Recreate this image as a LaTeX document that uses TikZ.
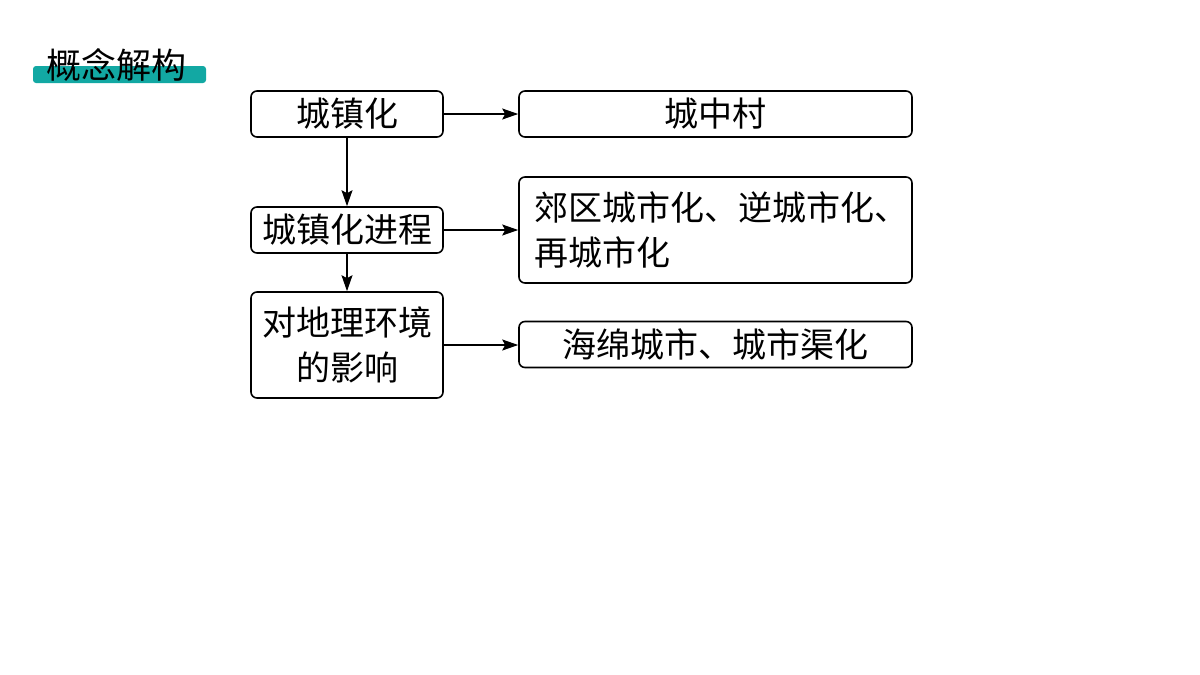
\documentclass[tikz,border=0pt]{standalone}
\usepackage{fontspec}
\newfontfamily\cjk{Noto Sans CJK SC}
\usetikzlibrary{arrows.meta}
\definecolor{teal1}{HTML}{12A8A3}
\tikzset{
  box/.style={draw=black, line width=1.6pt, rounded corners=6pt, minimum height=46pt, inner sep=0pt, font=\cjk\fontsize{34}{45}\selectfont},
  conn/.style={line width=1.5pt, -{Stealth[length=16pt,width=11pt,inset=3pt]}}
}
\begin{document}
\begin{tikzpicture}[x=1pt,y=-1pt]
\useasboundingbox (0,0) rectangle (1200,675);
\fill[white] (0,0) rectangle (1200,675);
% title
\fill[teal1, rounded corners=3pt] (33,66) rectangle (206,83);
\node[font=\cjk\fontsize{35}{40}\selectfont, inner sep=0pt, anchor=center] (title) at (116,65) {概念解构};
% left column
\node[box, minimum width=192pt] (a) at (347,114) {城镇化};
\node[box, minimum width=192pt] (b) at (347,230) {城镇化进程};
\node[box, minimum width=192pt, minimum height=106pt, align=center] (c) at (347,345) {对地理环境\\的影响};
% right column
\node[box, minimum width=393pt] (d) at (715.5,114) {城中村};
\node[box, minimum width=393pt, minimum height=106pt, align=left, text width=363pt] (e) at (715.5,230) {郊区城市化、逆城市化、\\再城市化};
\node[box, minimum width=393pt] (f) at (715.5,344.5) {海绵城市、城市渠化};
% connectors
\draw[conn] (a.east) -- (d.west);
\draw[conn] (a.south) -- (b.north);
\draw[conn] (b.south) -- (c.north);
\draw[conn] (b.east) -- (b.east -| e.west);
\draw[conn] (c.east) -- (c.east -| f.west);
\end{tikzpicture}
\end{document}
